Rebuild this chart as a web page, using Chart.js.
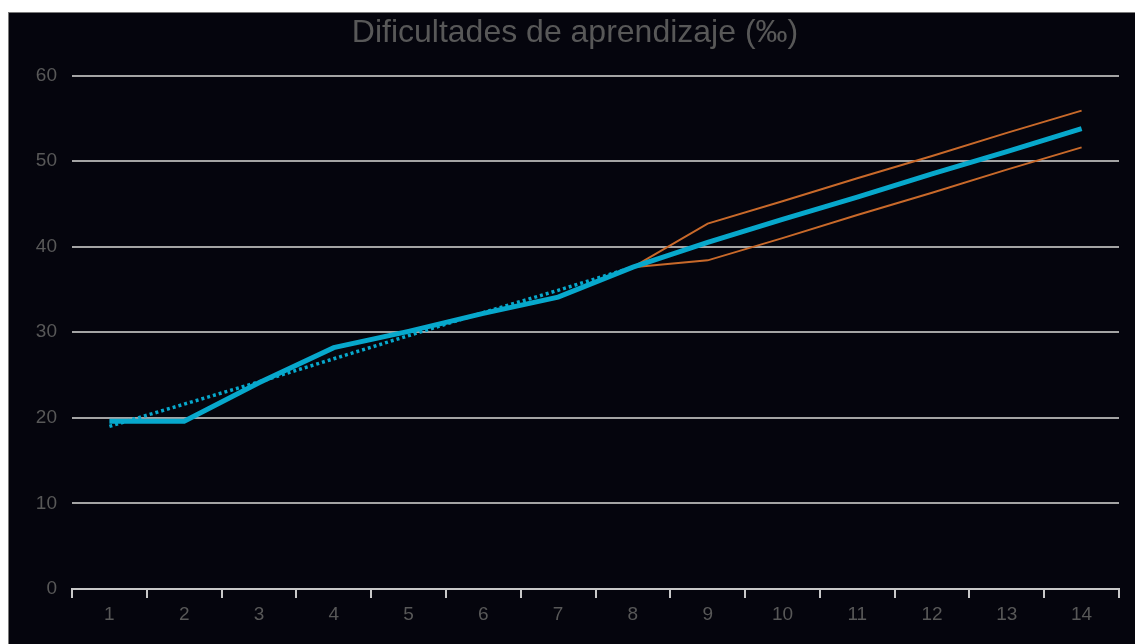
<!DOCTYPE html>
<html>
<head>
<meta charset="utf-8">
<script src="https://cdn.jsdelivr.net/npm/chart.js@4"></script>
<style>
  html, body { margin: 0; padding: 0; background: #ffffff; width: 1135px; height: 644px; overflow: hidden; }
  #panel { position: absolute; left: 8px; top: 12px; width: 1127px; height: 632px; background: #05050d;
           border-top: 1px solid #7a7a7a; border-left: 1px solid #7a7a7a; box-sizing: border-box; }
  #c { position: absolute; left: 0; top: 0; }
</style>
</head>
<body>
<div id="panel"><canvas id="c" width="1126" height="631"></canvas></div>
<script>
const categories = ['1','2','3','4','5','6','7','8','9','10','11','12','13','14'];
const yTicks = [0, 10, 20, 30, 40, 50, 60];
const observed = [19.6, 19.6, 24.1, 28.2, 30.1, 32.2, 34.1, 37.6, 40.5, 43.2, 45.8, 48.5, 51.1, 53.8];
const trend    = [19.0, 21.6, 24.2, 26.9, 29.6, 32.3, 34.9, 37.6, null, null, null, null, null, null];
const upperCI  = [null, null, null, null, null, null, null, 37.6, 42.7, 45.3, 48.0, 50.6, 53.3, 55.9];
const lowerCI  = [null, null, null, null, null, null, null, 37.6, 38.4, 41.0, 43.7, 46.3, 49.0, 51.6];
const titleText = 'Dificultades de aprendizaje (‰)';

const FONT = "'Liberation Sans', Arial, sans-serif";
const BLUE = '#07a8cc';
const ORANGE = '#c8692a';

new Chart(document.getElementById('c'), {
  type: 'line',
  data: {
    labels: categories,
    datasets: [
      { data: upperCI, borderColor: ORANGE, borderWidth: 2, pointRadius: 0, fill: false, order: 3, tension: 0 },
      { data: lowerCI, borderColor: ORANGE, borderWidth: 2, pointRadius: 0, fill: false, order: 4, tension: 0 },
      { data: trend, borderColor: BLUE, borderWidth: 3.5, borderDash: [3, 3], pointRadius: 0, fill: false, order: 2, tension: 0 },
      { data: observed, borderColor: BLUE, borderWidth: 5, pointRadius: 0, fill: false, order: 1, tension: 0 }
    ]
  },
  options: {
    responsive: false,
    animation: false,
    layout: { padding: { left: 22, right: 16, top: 0, bottom: 0 } },
    plugins: {
      legend: { display: false },
      tooltip: { enabled: false },
      title: {
        display: true,
        text: titleText,
        color: '#585858',
        font: { family: FONT, size: 32, weight: 'normal' },
        padding: { top: 1, bottom: 23.1 }
      }
    },
    scales: {
      x: {
        type: 'category',
        offset: true,
        afterFit: s => { s.height = 55; },
        grid: { display: true, drawOnChartArea: false, drawTicks: true, tickLength: 9, color: '#c8c8c8', lineWidth: 2, offset: true },
        border: { display: true, color: '#c8c8c8', width: 2 },
        ticks: { color: '#585858', font: { family: FONT, size: 19 }, padding: 5, maxRotation: 0, autoSkip: false }
      },
      y: {
        min: yTicks[0],
        max: yTicks[yTicks.length - 1],
        afterFit: s => { s.width = 41; },
        afterBuildTicks: s => { s.ticks = yTicks.map(v => ({ value: v })); },
        grid: { color: '#a4a4a4', lineWidth: 2, drawTicks: false },
        border: { display: false },
        ticks: { color: '#585858', font: { family: FONT, size: 19 }, padding: 15 }
      }
    }
  }
});
</script>
</body>
</html>
